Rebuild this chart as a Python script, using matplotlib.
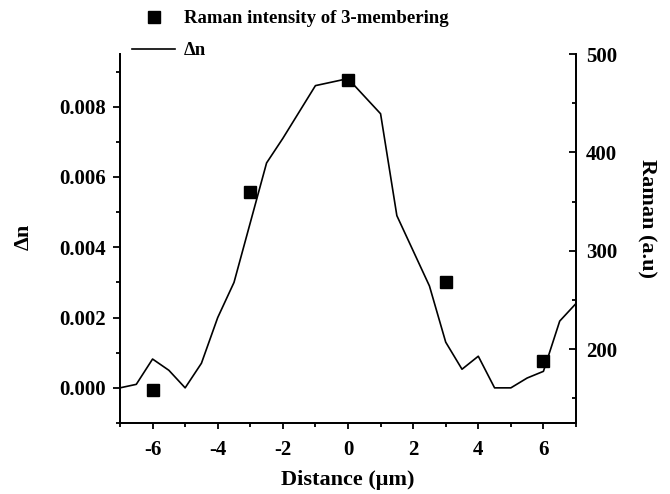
import numpy as np
import matplotlib
matplotlib.use("Agg")
import matplotlib.pyplot as plt
from matplotlib.ticker import MultipleLocator

# delta n profile (left axis)
dist = [-7, -6.5, -6, -5.5, -5, -4.5, -4, -3.5, -3, -2.5, -2, -1, 0,
        1, 1.5, 2, 2.5, 3, 3.5, 4, 4.5, 5, 5.5, 6, 6.5, 7]
delta_n = [0.0, 0.0001, 0.00082, 0.0005, 0.0, 0.0007, 0.002, 0.003, 0.0047,
           0.0064, 0.0071, 0.0086, 0.0088, 0.0078, 0.0049, 0.0039, 0.0029,
           0.0013, 0.00053, 0.0009, 0.0, 0.0, 0.00028, 0.00047, 0.0019, 0.0024]

# Raman intensity of 3-membering rings (right axis)
raman_x = [-6, -3, 0, 3, 6]
raman_y = [159, 360, 474, 268, 188]

plt.rcParams['font.family'] = ['Liberation Serif', 'DejaVu Serif']
plt.rcParams['font.weight'] = 'bold'
plt.rcParams['axes.unicode_minus'] = False

fig = plt.figure(figsize=(6.7, 4.94), dpi=100)
ax = fig.add_axes([120 / 670, 1 - 423 / 494, 456 / 670, 369 / 494])
ax2 = ax.twinx()

line, = ax.plot(dist, delta_n, color='black', linewidth=1.2, label='Δn')
sq, = ax2.plot(raman_x, raman_y, linestyle='none', marker='s', markersize=9,
               color='black', label='Raman intensity of 3-membering')

ax.set_xlim(-7, 7)
ax.set_ylim(-0.001, 0.0095)
ax2.set_ylim(125, 500)

ax.xaxis.set_major_locator(MultipleLocator(2))
ax.xaxis.set_minor_locator(MultipleLocator(1))
ax.yaxis.set_major_locator(MultipleLocator(0.002))
ax.yaxis.set_minor_locator(MultipleLocator(0.001))
ax2.yaxis.set_major_locator(MultipleLocator(100))
ax2.yaxis.set_minor_locator(MultipleLocator(50))
ax.yaxis.set_major_formatter(plt.FormatStrFormatter('%.3f'))

for a in (ax, ax2):
    a.spines['top'].set_visible(False)
    for s in a.spines.values():
        s.set_linewidth(1.3)
ax.tick_params(which='both', direction='out', width=1.3, labelsize=15)
ax.tick_params(axis='y', which='major', length=5, pad=5)
ax.tick_params(axis='x', which='major', length=4, pad=8)
ax.tick_params(which='minor', length=3)
ax2.tick_params(which='both', direction='in', width=1.3, labelsize=15)
ax2.tick_params(which='major', length=5, pad=7)
ax2.tick_params(which='minor', length=3)

ax.set_xlabel('Distance (μm)', fontsize=16, fontweight='bold')
ax.set_ylabel('Δn', fontsize=16, fontweight='bold')
ax2.set_ylabel('Raman (a.u)', fontsize=16, fontweight='bold', rotation=270)
ax.xaxis.set_label_coords(0.5, (423 - 480) / 369)
ax.yaxis.set_label_coords((24 - 120) / 456, (423 - 237) / 369)
ax2.yaxis.set_label_coords((647 - 120) / 456, (423 - 218) / 369)
for lab in (ax.xaxis.label, ax.yaxis.label, ax2.yaxis.label):
    lab.set_verticalalignment('center')
    lab.set_horizontalalignment('center')

fig.legend([sq, line], ['Raman intensity of 3-membering', 'Δn'],
           loc='upper left', bbox_to_anchor=(132 / 670, 1 - 10 / 494),
           frameon=False, fontsize=13.5, handlelength=2.3, handletextpad=0.45,
           borderpad=0, borderaxespad=0, labelspacing=0.8)

fig.savefig('out.png', dpi=100)
